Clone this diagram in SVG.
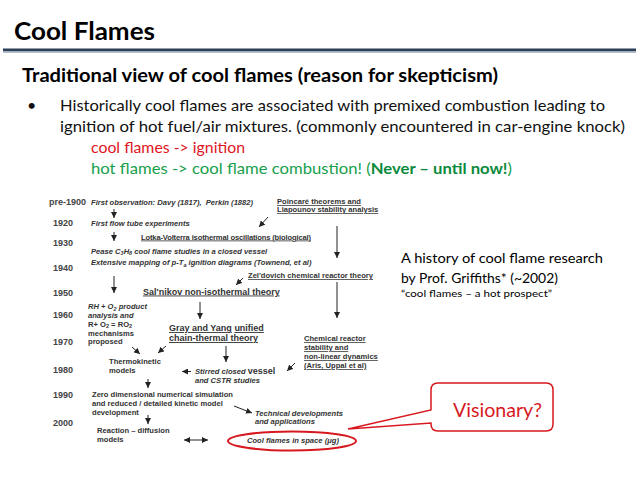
<svg xmlns="http://www.w3.org/2000/svg" width="638" height="479" viewBox="0 0 638 479">
<style>
.h{font-family:Lato,"Open Sans",sans-serif;fill:#000}
.b{font-family:Lato,"Open Sans",sans-serif;font-size:16px;fill:#111}
.f{font-family:"Liberation Sans",Arial,sans-serif;font-size:7.6px;font-weight:bold;fill:#333}
.i{font-style:italic}
.u{text-decoration:underline}
.yr{font-family:"Liberation Sans",Arial,sans-serif;font-size:9px;font-weight:bold;fill:#444}
.big{font-size:9px}
.ar{stroke:#222;stroke-width:1;fill:none;marker-end:url(#ah)}
</style>
<defs>
<marker id="ah" viewBox="0 0 8 8" refX="8" refY="4" markerWidth="6" markerHeight="6" orient="auto-start-reverse" markerUnits="userSpaceOnUse"><path d="M0,0 L8,4 L0,8 z" fill="#222"/></marker>
</defs>
<rect width="638" height="479" fill="#fff"/>

<g id="header">
<text class="h" x="14" y="40" font-size="24" font-weight="bold" textLength="141" lengthAdjust="spacingAndGlyphs">Cool Flames</text>
<rect x="3" y="48.5" width="633" height="3" fill="#2B3F58"/>
<rect x="3" y="51.5" width="633" height="1.5" fill="#B5C0CC"/>
<text class="h" x="22" y="82" font-size="18.5" font-weight="bold" textLength="476" lengthAdjust="spacingAndGlyphs">Traditional view of cool flames (reason for skepticism)</text>
<text class="b" x="27" y="111">•</text>
<text class="b" x="60" y="111" textLength="545" lengthAdjust="spacingAndGlyphs">Historically cool flames are associated with premixed combustion leading to</text>
<text class="b" x="60" y="132" textLength="565" lengthAdjust="spacingAndGlyphs">ignition of hot fuel/air mixtures.  (commonly encountered in car-engine knock)</text>
<text class="b" x="91" y="153" fill="#E0161E" style="fill:#E0161E" textLength="154" lengthAdjust="spacingAndGlyphs">cool flames -&gt; ignition</text>
<text class="b" x="91" y="174" style="fill:#17A04B" textLength="421" lengthAdjust="spacingAndGlyphs">hot flames -&gt; cool flame combustion! (<tspan font-weight="bold" style="fill:#0B8A3C">Never – until now!</tspan>)</text>
</g>

<g id="years">
<text class="yr" x="49" y="205">pre-1900</text>
<text class="yr" x="53" y="225.5">1920</text>
<text class="yr" x="53" y="246">1930</text>
<text class="yr" x="53" y="270.5">1940</text>
<text class="yr" x="53" y="296">1950</text>
<text class="yr" x="53" y="318">1960</text>
<text class="yr" x="53" y="345">1970</text>
<text class="yr" x="53" y="373">1980</text>
<text class="yr" x="53" y="398">1990</text>
<text class="yr" x="53" y="426">2000</text>
</g>

<g id="n-first-observation"><text class="f i" x="91" y="205">First observation: Davy (1817),&#160; Perkin (1882)</text></g>
<g id="n-flow-tube"><text class="f i" x="91" y="226">First flow tube experiments</text></g>
<g id="n-lotka"><text class="f u" x="141" y="239.5" textLength="170">Lotka-Volterra isothermal oscillations (biological)</text></g>
<g id="n-pease">
<text class="f i" x="91" y="253.5">Pease C<tspan font-size="5.5" dy="1.5">3</tspan><tspan dy="-1.5">H</tspan><tspan font-size="5.5" dy="1.5">8</tspan><tspan dy="-1.5"> cool flame studies in a closed vessel</tspan></text>
<text class="f i" x="91" y="265">Extensive mapping of p-T<tspan font-size="5.5" dy="1.5">a</tspan><tspan dy="-1.5"> ignition diagrams (Townend, et al)</tspan></text>
</g>
<g id="n-poincare">
<text class="f u" x="277" y="204">Poincaré theorems and</text>
<text class="f u" x="277" y="212">Liapounov stability analysis</text>
</g>
<g id="n-zeldovich"><text class="f u" x="248" y="278">Zel'dovich chemical reactor theory</text></g>
<g id="n-salnikov"><text class="f u big" x="143" y="294.5">Sal'nikov non-isothermal theory</text></g>
<g id="n-rh">
<text class="f i" x="88" y="309">RH + O<tspan font-size="5.5" dy="1.5">2</tspan><tspan dy="-1.5"> product</tspan></text>
<text class="f i" x="88" y="317.5">analysis and</text>
<text class="f" x="88" y="326.5">R+ O<tspan font-size="5.5" dy="1.5">2</tspan><tspan dy="-1.5"> = RO</tspan><tspan font-size="5.5" dy="1.5">2</tspan></text>
<text class="f" x="88" y="335.5">mechanisms</text>
<text class="f" x="88" y="344">proposed</text>
</g>
<g id="n-gray-yang">
<text class="f big" x="169" y="331"><tspan class="u">Gray and Yang</tspan> <tspan class="u">unified</tspan></text>
<text class="f big u" x="169" y="341">chain-thermal theory</text>
</g>
<g id="n-chem-reactor">
<text class="f u" x="304" y="341">Chemical reactor</text>
<text class="f u" x="304" y="350">stability and</text>
<text class="f u" x="304" y="359">non-linear dynamics</text>
<text class="f u" x="304" y="368">(Aris, Uppal et al)</text>
</g>
<g id="n-thermokinetic">
<text class="f" x="109" y="364">Thermokinetic</text>
<text class="f" x="109" y="373">models</text>
</g>
<g id="n-stirred">
<text class="f i" x="195" y="374">Stirred closed <tspan font-style="normal" font-size="9">vessel</tspan></text>
<text class="f i" x="195" y="383">and CSTR studies</text>
</g>
<g id="n-zero-dim">
<text class="f" x="92" y="397">Zero dimensional numerical simulation</text>
<text class="f" x="92" y="406">and reduced / detailed kinetic model</text>
<text class="f" x="92" y="415">development</text>
</g>
<g id="n-technical">
<text class="f i" x="255" y="415.5">Technical developments</text>
<text class="f i" x="255" y="424">and applications</text>
</g>
<g id="n-reaction-diffusion">
<text class="f" x="97" y="432.5">Reaction – diffusion</text>
<text class="f" x="97" y="441.5">models</text>
</g>
<g id="n-space">
<ellipse cx="292" cy="441" rx="64" ry="9.5" fill="none" stroke="#D7191F" stroke-width="2"/>
<text class="f i" x="247" y="443">Cool flames in space (μg)</text>
</g>

<g id="connectors">
<line class="ar" x1="114" y1="209" x2="114" y2="218"/>
<line class="ar" x1="114" y1="232" x2="114" y2="241"/>
<line class="ar" x1="114" y1="276" x2="114" y2="293"/>
<line class="ar" x1="268" y1="217" x2="259" y2="227"/>
<line class="ar" x1="337" y1="226" x2="337" y2="258"/>
<line class="ar" x1="243" y1="278" x2="236" y2="285"/>
<line class="ar" x1="200" y1="302" x2="200" y2="319"/>
<line class="ar" x1="337" y1="282" x2="337" y2="318"/>
<line class="ar" x1="132" y1="347" x2="140" y2="354"/>
<line class="ar" x1="166" y1="346" x2="158" y2="353"/>
<line class="ar" x1="226" y1="346" x2="226" y2="362"/>
<line class="ar" x1="295" y1="363" x2="287" y2="371"/>
<line class="ar" x1="191" y1="371.5" x2="182" y2="371.5"/>
<line class="ar" x1="148" y1="379" x2="148" y2="388"/>
<line class="ar" x1="234" y1="406" x2="252" y2="413"/>
<line class="ar" x1="148" y1="415" x2="148" y2="424"/>
<line class="ar" x1="184" y1="440" x2="208" y2="440" style="marker-start:url(#ah)"/>
</g>

<g id="history-note">
<text class="h" x="401" y="263" font-size="13.5" textLength="202" lengthAdjust="spacingAndGlyphs">A history of cool flame research</text>
<text class="h" x="401" y="283" font-size="13.5" textLength="157" lengthAdjust="spacingAndGlyphs">by Prof. Griffiths* (~2002)</text>
<text class="h" x="401" y="297" font-size="10" textLength="151" lengthAdjust="spacingAndGlyphs">“cool flames – a hot prospect”</text>
</g>

<g id="callout">
<path d="M438,383 H546 Q553,383 553,390 V424 Q553,431 546,431 H438 Q431,431 431,424 V423 L348,429 L431,410 V390 Q431,383 438,383 Z" fill="#fff" stroke="#D7191F" stroke-width="1.5"/>
<text class="h" x="453" y="417" font-size="20" style="fill:#D7191F" textLength="89" lengthAdjust="spacingAndGlyphs">Visionary?</text>
</g>
</svg>
